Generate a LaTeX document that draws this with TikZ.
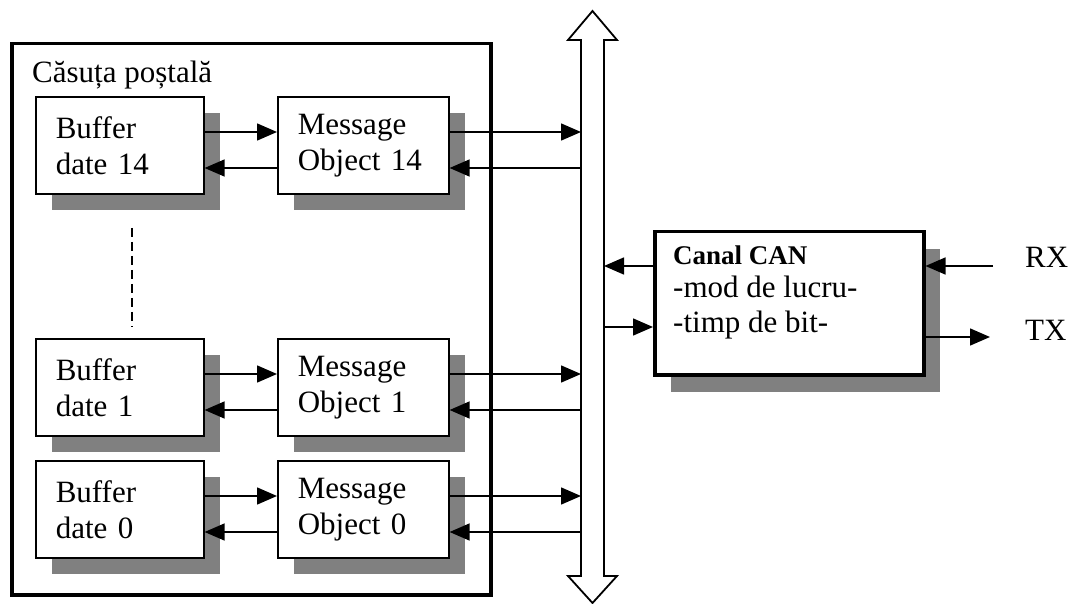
\documentclass[tikz,border=0pt]{standalone}
\usepackage{fontspec}
\setmainfont{Liberation Serif}
\usetikzlibrary{arrows.meta,calc,shadows}
\definecolor{shadowgray}{HTML}{808080}
\begin{document}
\begin{tikzpicture}[x=1pt,y=-1pt,
  bigfont/.style={font=\fontsize{31}{36}\selectfont},
  box/.style={draw, line width=1.6pt, fill=white, minimum height=97pt,
    inner xsep=20pt, inner ysep=0pt, align=left, anchor=north west, bigfont,
    drop shadow={shadow xshift=16pt, shadow yshift=-16pt, fill=shadowgray, opacity=1}},
  bufbox/.style={box, text width=128pt},
  msgbox/.style={box, text width=131pt},
  conn/.style={line width=1.5pt, -{Triangle[length=20pt,width=17pt]}},
  lbl/.style={anchor=base west, inner sep=0pt, bigfont}]
\useasboundingbox (0,0) rectangle (1077,604);

% mailbox frame
\node[draw, line width=3.5pt, minimum width=479pt, minimum height=551pt,
  anchor=north west, inner sep=0pt] (mailbox) at (10,42) {};
\node[lbl] (title) at (32,83) {Căsuța poștală};

% bus
\draw[line width=1.8pt, fill=white] (592.5,11) -- (617,40) -- (604,40) -- (604,576)
  -- (617,576) -- (592.5,603) -- (568,576) -- (581,576) -- (581,40) -- (568,40) -- cycle;
\coordinate (busL) at (581,300);
\coordinate (busR) at (604,300);

% rows
\node[bufbox] (b14) at (35,96) {Buffer\\date 14};
\node[msgbox] (m14) at (277,96) {Message\\Object 14};
\node[bufbox] (b1) at (35,338) {Buffer\\date 1};
\node[msgbox] (m1) at (277,338) {Message\\Object 1};
\node[bufbox] (b0) at (35,460) {Buffer\\date 0};
\node[msgbox] (m0) at (277,460) {Message\\Object 0};

\foreach \r/\t in {14/96, 1/338, 0/460} {
  \coordinate (ya\r) at (0,\t+36);
  \coordinate (yb\r) at (0,\t+72);
  \draw[conn] (b\r.east |- ya\r) -- (m\r.west |- ya\r);
  \draw[conn] (m\r.west |- yb\r) -- (b\r.east |- yb\r);
  \draw[conn] (m\r.east |- ya\r) -- (busL |- ya\r);
  \draw[conn] (busL |- yb\r) -- (m\r.east |- yb\r);
}

% dashed continuation
\draw[line width=2pt, dash pattern=on 9pt off 5pt] (132,228) -- (132,327);

% CAN channel
\node[draw, line width=3.5pt, fill=white, minimum width=269pt, minimum height=143pt,
  anchor=north west, inner sep=0pt,
  drop shadow={shadow xshift=16pt, shadow yshift=-17pt, fill=shadowgray, opacity=1}]
  (can) at (653,230) {};
\node[anchor=base west, inner sep=0pt, font=\fontsize{27}{30}\selectfont\bfseries] (canT) at (673,265) {Canal CAN};
\node[lbl] (canL1) at (673,298) {-mod de lucru-};
\node[lbl] (canL2) at (673,332) {-timp de bit-};

\coordinate (yc1) at (0,266);
\coordinate (yc2) at (0,327);
\draw[conn] (can.west |- yc1) -- (busR |- yc1);
\draw[conn] (busR |- yc2) -- (can.west |- yc2);

\node[lbl] (rx) at (1025,268) {RX};
\node[lbl] (tx) at (1025,340) {TX};
\coordinate (rxs) at (993,266);
\coordinate (txe) at (990,337);
\draw[conn] (rxs) -- (can.east |- rxs);
\draw[conn] (can.east |- txe) -- (txe);
\end{tikzpicture}
\end{document}
